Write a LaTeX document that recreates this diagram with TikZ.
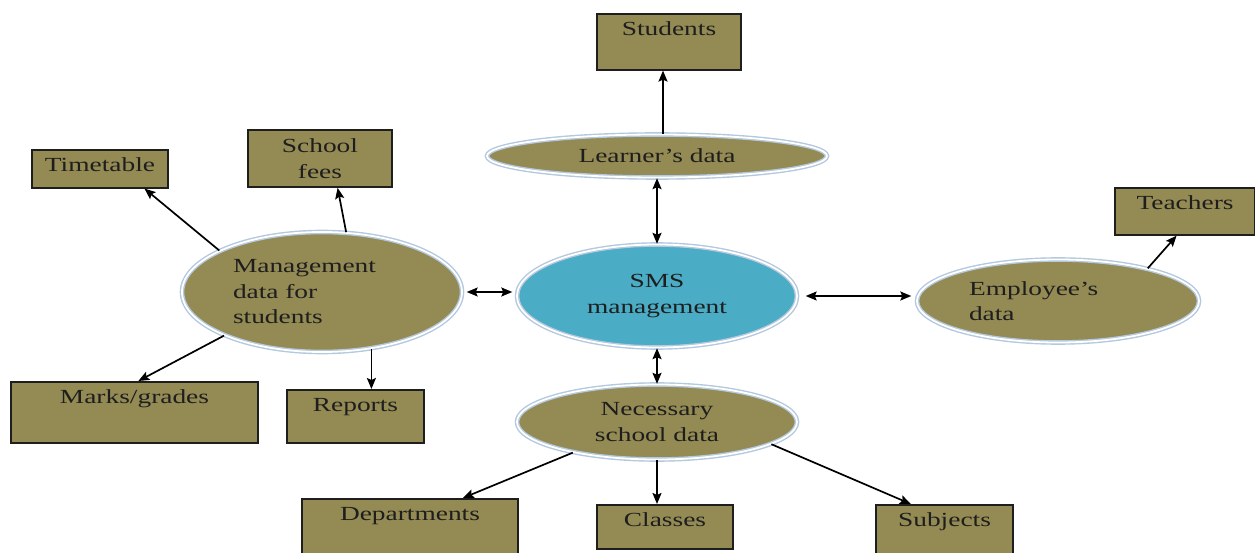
\documentclass[tikz,border=0pt]{standalone}
\usepackage{fontspec}
\setmainfont{Liberation Serif}[FakeStretch=1.37]
\usetikzlibrary{shapes.geometric,arrows.meta}
\definecolor{olivebox}{HTML}{948A54}
\definecolor{smsblue}{HTML}{4BACC6}
\definecolor{ringblue}{HTML}{B4C8DE}
\definecolor{inkdark}{HTML}{1E1E1E}
\begin{document}
\begin{tikzpicture}[x=1pt, y=-1pt,
  every node/.style={font=\fontsize{20}{25.5}\selectfont, text=inkdark},
  oval/.style={ellipse, fill=olivebox, draw=ringblue, line width=1.4pt, double=white, double distance=1.8pt, inner sep=0pt, align=center},
  tbox/.style={rectangle, draw=inkdark, line width=1.6pt, fill=olivebox, anchor=north, inner xsep=0pt, inner ysep=8pt, text height=14pt},
  oneway/.style={-{Stealth[length=11pt,width=9pt,inset=2pt]}, line width=1.7pt, draw=black},
  twoway/.style={{Stealth[length=11pt,width=9pt,inset=2pt]}-{Stealth[length=11pt,width=9pt,inset=2pt]}, line width=1.7pt, draw=black}]
\useasboundingbox (0,0) rectangle (1255,553);

\node[oval, minimum width=340pt, minimum height=43pt] (learner) at (657,156) {Learner’s data};
\node[oval, fill=smsblue, minimum width=280pt, minimum height=103pt] (sms) at (657,296) {SMS\\management};
\node[oval, minimum width=280pt, minimum height=120pt, text width=178pt, align=left] (mgmt) at (322,292) {Management\\data for\\students};
\node[oval, minimum width=282pt, minimum height=83pt, text width=178pt, align=left] (emp) at (1058,301) {Employee’s\\data};
\node[oval, minimum width=280pt, minimum height=75pt] (needs) at (657,422) {Necessary\\school data};

\node[tbox, minimum width=144pt, text depth=26pt] (students) at (669,13) {Students};
\node[tbox, minimum width=136pt, text depth=8pt] (timetable) at (100,149) {Timetable};
\node[rectangle, draw=inkdark, line width=1.6pt, fill=olivebox, minimum width=144pt, minimum height=57pt, align=center, inner sep=0pt] (fees) at (320,158.5) {School\\fees};
\node[tbox, minimum width=247pt, text depth=31pt] (marks) at (134.5,381) {Marks/grades};
\node[tbox, minimum width=137pt, text depth=23pt] (reports) at (355.5,389) {Reports};
\node[tbox, minimum width=140pt, text depth=17pt] (teachers) at (1185,187) {Teachers};
\node[tbox, minimum width=216pt, text depth=27pt] (departments) at (410,498) {Departments};
\node[tbox, minimum width=136pt, text depth=14pt] (classes) at (665,504) {Classes};
\node[tbox, minimum width=137pt, text depth=21pt] (subjects) at (944.5,504) {Subjects};

\draw[oneway] ([xshift=6pt]learner.north) -- ([xshift=-6pt]students.south);
\draw[twoway] (learner.south) -- (sms.north);
\draw[twoway, shorten <=4pt, shorten >=4pt] (mgmt.east) -- (mgmt.east -| sms.west);
\draw[twoway, shorten <=8pt, shorten >=5pt] (sms.east) -- (sms.east -| emp.west);
\draw[twoway] (sms.south) -- (needs.north);
\draw[oneway] (mgmt.158) -- (timetable.-24);
\draw[oneway] (mgmt.68) -- (fees.-59);
\draw[oneway] (mgmt.204) -- (marks.83);
\draw[oneway] (mgmt.-49) -- (mgmt.-49 |- reports.north);
\draw[oneway] (emp.20) -- (teachers.-109);
\draw[oneway] (needs.200) -- (departments.29);
\draw[oneway] (needs.south) -- (needs.south |- classes.north);
\draw[oneway] (needs.-11) -- (subjects.142);

\end{tikzpicture}
\end{document}
